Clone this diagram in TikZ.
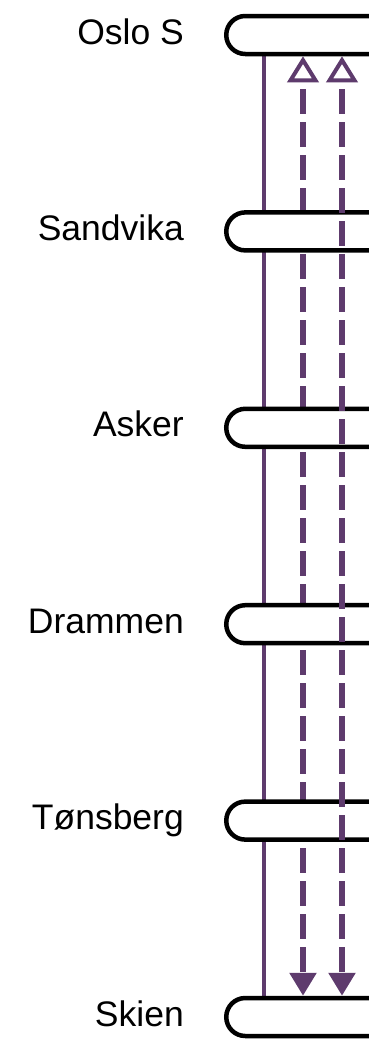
\documentclass[tikz,border=0pt]{standalone}
\usepackage{fontspec}
\setmainfont{Liberation Sans}
\usetikzlibrary{arrows.meta,shapes.misc}
\definecolor{routepurple}{HTML}{5E3B6D}
\begin{document}
\begin{tikzpicture}[x=1pt,y=-1pt,
  pill/.style={rounded rectangle, rounded rectangle right arc=none, draw=black, line width=4.5pt, fill=white, minimum width=240pt, minimum height=38pt, inner sep=0pt, anchor=west},
  lbl/.style={anchor=base east, font=\fontsize{35.5}{42}\selectfont, inner sep=0pt},
  solidline/.style={draw=routepurple, line width=4.8pt},
  dashline/.style={draw=routepurple, line width=5.5pt, dash pattern=on 25pt off 8pt, dash phase=25pt,
    {Triangle[open, length=26pt, width=31pt, line width=4pt]}-{Triangle[length=23pt, width=26pt]}}
]
\useasboundingbox (0,0) rectangle (369,1039);
\coordinate (xa) at (264,0);
\coordinate (xb) at (303,0);
\coordinate (xc) at (342,0);
\path (224,35) coordinate (p1) (224,231.4) coordinate (p2) (224,427.8) coordinate (p3)
      (224,624.2) coordinate (p4) (224,820.6) coordinate (p5) (224,1017) coordinate (p6);
\foreach \i in {1,...,6} {\node[pill, draw=none, fill=none] (s\i) at (p\i) {};}
\draw[solidline] (xa |- s1.south) -- (xa |- s6.north);
\draw[dashline] (xb |- s1.south) -- (xb |- s6.north);
\foreach \i in {1,...,6} {\node[pill] (t\i) at (p\i) {};}
\node[lbl] (l1) at (184,44) {Oslo S};
\node[lbl] (l2) at (184,240.4) {Sandvika};
\node[lbl] (l3) at (184,436.8) {Asker};
\node[lbl] (l4) at (184,633.2) {Drammen};
\node[lbl] (l5) at (184,829.6) {Tønsberg};
\node[lbl] (l6) at (184,1026) {Skien};
\draw[dashline] (xc |- t1.south) -- (xc |- t6.north);
\end{tikzpicture}
\end{document}
